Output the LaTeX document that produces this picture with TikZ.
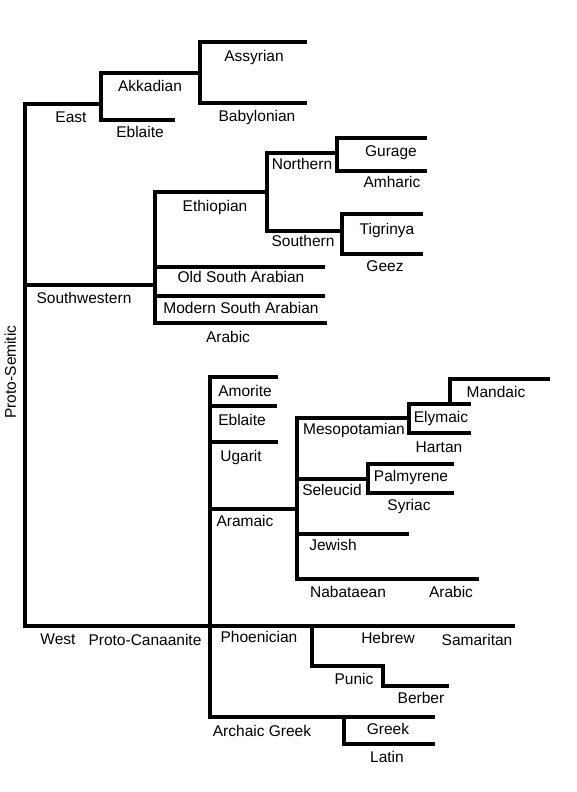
\documentclass[tikz,border=0pt]{standalone}
\usepackage{fontspec}
\setmainfont{Liberation Sans}
\tikzset{
  branch/.style={line width=3.2pt, line join=miter, line cap=rect},
  lang/.style={anchor=base, inner sep=0pt, font=\fontsize{15.5}{18}\selectfont}
}

\begin{document}
\begin{tikzpicture}[x=1pt, y=-1pt]
  \fill[white] (0,0) rectangle (576,792);
  \useasboundingbox (0,0) rectangle (576,792);

  % Fork points and branch ends (pixel grid of the page)
  \foreach \n/\x/\y in {
    ps-t/25/104, ps-sw/25/285, ps-b/25/626, we/513/626,
    ea/101/104, ak-t/101/73, ak-r/200/73, ak-b/101/120, ebl/173/120,
    as-t/200/42, as-b/200/103, assy/305/42, baby/305/103,
    sw/155/285, sw-t/155/192, sw-b/155/323, arab-e/325/323,
    osa/155/267, osa-e/323/267, msa/155/296, msa-e/323/296,
    eth/267/192, eth-t/267/153, eth-b/267/231,
    nor/337/153, nor-t/337/138, nor-b/337/171, gur/425/138, amh/425/171,
    sou/342/231, sou-t/342/214, sou-b/342/254, tig/421/214, gee/421/254,
    amo/210/377, amo-e/276/377, eb2/210/406, eb2-e/275/406,
    uga/210/442, uga-e/276/442, ara/210/509, ara-e/297/509,
    ag/210/717, age/433/717, agx/344/717, lat/344/744, lat-e/433/744,
    mes/297/418, mes-e/409/418, sel/297/479, sel-e/368/479,
    jew/297/534, jew-e/407/534, nab/297/579, nab-e/477/579,
    ely-t/409/404, ely-e/469/404, har/409/433, har-e/469/433,
    man/450/404, man-t/450/379, man-e/548/379,
    pal-t/368/464, pal-e/452/464, syr/368/493, syr-e/452/493,
    phx/312/626, ph-b/312/666, pu/383/666, pu-b/383/686, ber/447/686
  } {
    \coordinate (\n) at (\x,\y);
  }

  % Trunk, East and West
  \draw[branch] (ea) -- (ps-t) -- (ps-b) -- (we);
  \draw[branch] (ak-r) -- (ak-t) -- (ak-b) -- (ebl);
  \draw[branch] (assy) -- (as-t) -- (as-b) -- (baby);

  % Southwestern
  \draw[branch] (ps-sw) -- (sw);
  \draw[branch] (eth) -- (sw-t) -- (sw-b) -- (arab-e);
  \draw[branch] (osa) -- (osa-e);
  \draw[branch] (msa) -- (msa-e);
  \draw[branch] (nor) -- (eth-t) -- (eth-b) -- (sou);
  \draw[branch] (gur) -- (nor-t) -- (nor-b) -- (amh);
  \draw[branch] (tig) -- (sou-t) -- (sou-b) -- (gee);

  % West: Proto-Canaanite and Aramaic
  \draw[branch] (amo-e) -- (amo) -- (ag) -- (age);
  \draw[branch] (eb2) -- (eb2-e);
  \draw[branch] (uga) -- (uga-e);
  \draw[branch] (ara) -- (ara-e);
  \draw[branch] (mes-e) -- (mes) -- (nab) -- (nab-e);
  \draw[branch] (jew) -- (jew-e);
  \draw[branch] (sel) -- (sel-e);
  \draw[branch] (ely-e) -- (ely-t) -- (har) -- (har-e);
  \draw[branch] (man) -- (man-t) -- (man-e);
  \draw[branch] (pal-e) -- (pal-t) -- (syr) -- (syr-e);
  \draw[branch] (phx) -- (ph-b) -- (pu) -- (pu-b) -- (ber);
  \draw[branch] (agx) -- (lat) -- (lat-e);

  % Language labels (centre x, baseline y)
  \foreach \n/\x/\y/\t in {
    l-east/71/122/East, l-akk/150/91/Akkadian, l-ebl/140/137/Eblaite,
    l-assy/254/62/Assyrian, l-baby/257/121/Babylonian,
    l-sw/84/303/Southwestern, l-eth/215/211/Ethiopian,
    l-nor/302/169/Northern, l-sou/303/246/Southern,
    l-gur/391/156/Gurage, l-amh/392/187/Amharic,
    l-tig/387/234/Tigrinya, l-gee/385/271/Geez,
    l-osa/241/282/Old South Arabian, l-msa/241/313/Modern South Arabian,
    l-arab/228/342/Arabic,
    l-amo/245/396/Amorite, l-eb2/242/425/Eblaite, l-uga/241/461/Ugarit,
    l-ara/245/526/Aramaic, l-mes/354/434/Mesopotamian,
    l-ely/441/422/Elymaic, l-har/439/452/Hartan, l-man/496/397/Mandaic,
    l-sel/332/495/Seleucid, l-pal/411/481/Palmyrene, l-syr/409/510/Syriac,
    l-jew/333/550/Jewish, l-nab/348/597/Nabataean, l-arab2/451/597/Arabic,
    l-west/58/644/West, l-pc/145/645/Proto-Canaanite,
    l-ph/259/642/Phoenician, l-heb/388/643/Hebrew, l-sam/477/645/Samaritan,
    l-pun/354/684/Punic, l-ber/421/703/Berber,
    l-ag/262/736/Archaic Greek, l-gre/388/734/Greek, l-lat/387/762/Latin
  } {
    \node[lang] (\n) at (\x,\y) {\t};
  }
  \node[lang, rotate=90] (l-ps) at (16,372) {Proto-Semitic};
\end{tikzpicture}
\end{document}
